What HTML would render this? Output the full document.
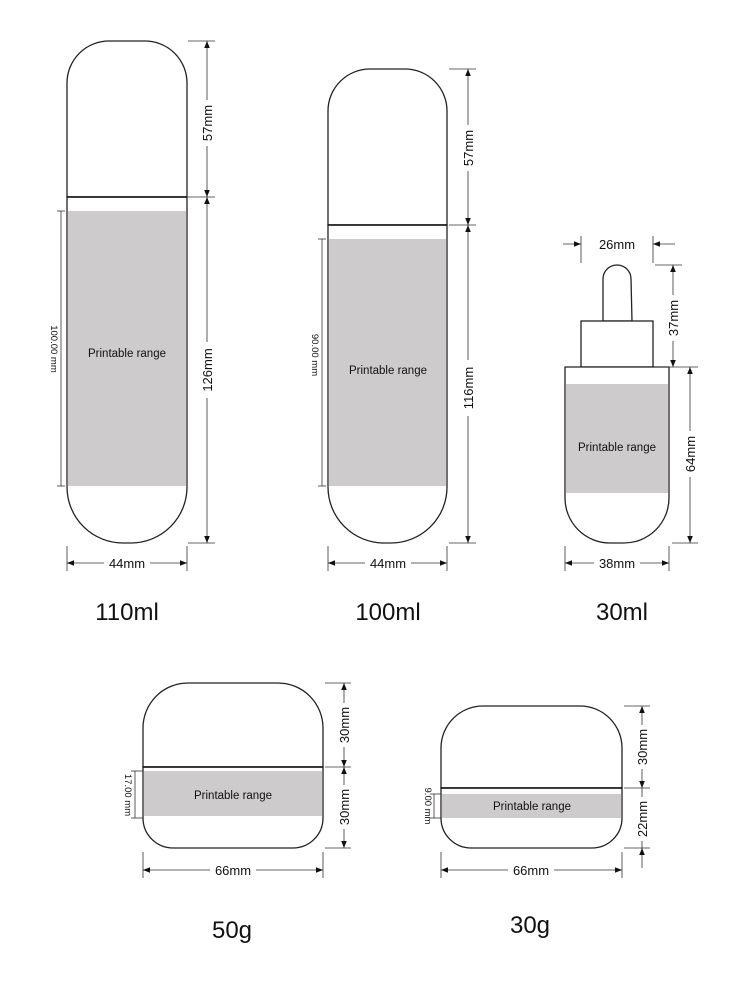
<!DOCTYPE html>
<html><head><meta charset="utf-8"><style>
html,body{margin:0;padding:0;background:#fff;}
svg{display:block;font-family:"Liberation Sans",Arial,sans-serif;}
.b{fill:#fff;stroke:#222;stroke-width:1.3}
.g{fill:#cdcbcc}
.d{stroke:#333;stroke-width:0.8;fill:none}
.t{font-size:13px;fill:#111}
.s{font-size:9.5px;fill:#111}
.p{font-size:11.5px;fill:#111}
.L{font-size:24px;fill:#111}
</style></head><body>
<svg width="750" height="1004" viewBox="0 0 750 1004" xmlns="http://www.w3.org/2000/svg">
<defs>
<marker id="a" viewBox="0 0 10 10" refX="10" refY="5" markerWidth="9" markerHeight="7" orient="auto-start-reverse" markerUnits="userSpaceOnUse"><path d="M0,1 L10,5 L0,9 z" fill="#111"/></marker>
</defs>

<!-- 110ml -->
<path class="b" d="M67,197 L67,83 A42,42 0 0 1 109,41 L145,41 A42,42 0 0 1 187,83 L187,197 Z"/>
<path class="b" d="M67,197 L187,197 L187,487 A56,56 0 0 1 131,543 L123,543 A56,56 0 0 1 67,487 Z"/>
<rect class="g" x="67.7" y="211" width="118.6" height="275"/>
<line x1="67" y1="197" x2="187" y2="197" stroke="#111" stroke-width="1.6"/>
<text class="p" x="127" y="357" text-anchor="middle">Printable range</text>
<line class="d" x1="61" y1="211" x2="61" y2="486"/><line class="d" x1="57" y1="211" x2="65" y2="211"/><line class="d" x1="57" y1="486" x2="65" y2="486"/>
<text class="s" transform="translate(51,349) rotate(90)" text-anchor="middle">100.00 mm</text>
<line class="d" x1="188" y1="41" x2="215" y2="41"/><line class="d" x1="188" y1="197" x2="215" y2="197"/><line class="d" x1="188" y1="543" x2="215" y2="543"/>
<line class="d" x1="207" y1="41" x2="207" y2="197" marker-start="url(#a)" marker-end="url(#a)"/>
<line class="d" x1="207" y1="197" x2="207" y2="543" marker-start="url(#a)" marker-end="url(#a)"/>
<rect x="200" y="100" width="14" height="46" fill="#fff"/><text class="t" transform="translate(212,123) rotate(-90)" text-anchor="middle">57mm</text>
<rect x="200" y="342" width="14" height="56" fill="#fff"/><text class="t" transform="translate(212,370) rotate(-90)" text-anchor="middle">126mm</text>
<line class="d" x1="67" y1="546" x2="67" y2="571"/><line class="d" x1="187" y1="546" x2="187" y2="571"/>
<line class="d" x1="67" y1="563" x2="187" y2="563" marker-start="url(#a)" marker-end="url(#a)"/>
<rect x="104" y="555" width="46" height="14" fill="#fff"/><text class="t" x="127" y="568" text-anchor="middle">44mm</text>
<text class="L" x="127" y="620" text-anchor="middle">110ml</text>

<!-- 100ml -->
<path class="b" d="M328,225 L328,111 A42,42 0 0 1 370,69 L405,69 A42,42 0 0 1 447,111 L447,225 Z"/>
<path class="b" d="M328,225 L447,225 L447,487 A56,56 0 0 1 391,543 L384,543 A56,56 0 0 1 328,487 Z"/>
<rect class="g" x="328.7" y="239" width="117.6" height="247"/>
<line x1="328" y1="225" x2="447" y2="225" stroke="#111" stroke-width="1.6"/>
<text class="p" x="388" y="374" text-anchor="middle">Printable range</text>
<line class="d" x1="322" y1="239" x2="322" y2="486"/><line class="d" x1="318" y1="239" x2="326" y2="239"/><line class="d" x1="318" y1="486" x2="326" y2="486"/>
<text class="s" transform="translate(312,355) rotate(90)" text-anchor="middle">90.00 mm</text>
<line class="d" x1="449" y1="69" x2="476" y2="69"/><line class="d" x1="449" y1="225" x2="476" y2="225"/><line class="d" x1="449" y1="543" x2="476" y2="543"/>
<line class="d" x1="468" y1="69" x2="468" y2="225" marker-start="url(#a)" marker-end="url(#a)"/>
<line class="d" x1="468" y1="225" x2="468" y2="543" marker-start="url(#a)" marker-end="url(#a)"/>
<rect x="461" y="125" width="14" height="46" fill="#fff"/><text class="t" transform="translate(473,148) rotate(-90)" text-anchor="middle">57mm</text>
<rect x="461" y="360" width="14" height="56" fill="#fff"/><text class="t" transform="translate(473,388) rotate(-90)" text-anchor="middle">116mm</text>
<line class="d" x1="328" y1="546" x2="328" y2="571"/><line class="d" x1="447" y1="546" x2="447" y2="571"/>
<line class="d" x1="328" y1="563" x2="447" y2="563" marker-start="url(#a)" marker-end="url(#a)"/>
<rect x="365" y="555" width="46" height="14" fill="#fff"/><text class="t" x="388" y="568" text-anchor="middle">44mm</text>
<text class="L" x="388" y="620" text-anchor="middle">100ml</text>

<!-- 30ml -->
<path class="b" d="M603,321 L603,279 A14,14 0 0 1 631,279 L632,321 Z"/>
<rect class="b" x="581" y="321" width="72" height="46"/>
<path class="b" d="M565,367 L669,367 L669,498 A45,45 0 0 1 624,543 L610,543 A45,45 0 0 1 565,498 Z"/>
<rect class="g" x="565.7" y="384" width="102.6" height="109"/>
<text class="p" x="617" y="451" text-anchor="middle">Printable range</text>
<line class="d" x1="581" y1="236" x2="581" y2="263"/><line class="d" x1="653" y1="236" x2="653" y2="263"/>
<line class="d" x1="563" y1="244" x2="581" y2="244" marker-end="url(#a)"/>
<line class="d" x1="675" y1="244" x2="653" y2="244" marker-end="url(#a)"/>
<text class="t" x="617" y="249" text-anchor="middle">26mm</text>
<line class="d" x1="655" y1="265" x2="682" y2="265"/><line class="d" x1="655" y1="367" x2="698" y2="367"/><line class="d" x1="672" y1="543" x2="698" y2="543"/>
<line class="d" x1="673" y1="265" x2="673" y2="367" marker-start="url(#a)" marker-end="url(#a)"/>
<line class="d" x1="690" y1="367" x2="690" y2="543" marker-start="url(#a)" marker-end="url(#a)"/>
<rect x="666" y="295" width="14" height="46" fill="#fff"/><text class="t" transform="translate(678,318) rotate(-90)" text-anchor="middle">37mm</text>
<rect x="683" y="431" width="14" height="46" fill="#fff"/><text class="t" transform="translate(695,454) rotate(-90)" text-anchor="middle">64mm</text>
<line class="d" x1="565" y1="546" x2="565" y2="571"/><line class="d" x1="669" y1="546" x2="669" y2="571"/>
<line class="d" x1="565" y1="563" x2="669" y2="563" marker-start="url(#a)" marker-end="url(#a)"/>
<rect x="594" y="555" width="46" height="14" fill="#fff"/><text class="t" x="617" y="568" text-anchor="middle">38mm</text>
<text class="L" x="622" y="620" text-anchor="middle">30ml</text>

<!-- 50g -->
<path class="b" d="M143,767 L143,728 A45,45 0 0 1 188,683 L278,683 A45,45 0 0 1 323,728 L323,767 Z"/>
<path class="b" d="M143,767 L323,767 L323,818 A30,30 0 0 1 293,848 L173,848 A30,30 0 0 1 143,818 Z"/>
<rect class="g" x="143.7" y="771" width="178.6" height="45"/>
<line x1="143" y1="767" x2="323" y2="767" stroke="#111" stroke-width="1.6"/>
<text class="p" x="233" y="799" text-anchor="middle">Printable range</text>
<line class="d" x1="135" y1="771" x2="135" y2="818"/><line class="d" x1="131" y1="771" x2="143" y2="771"/><line class="d" x1="131" y1="818" x2="143" y2="818"/>
<text class="s" transform="translate(125,795) rotate(90)" text-anchor="middle">17.00 mm</text>
<line class="d" x1="325" y1="683" x2="351" y2="683"/><line class="d" x1="325" y1="767" x2="351" y2="767"/><line class="d" x1="325" y1="848" x2="351" y2="848"/>
<line class="d" x1="344" y1="683" x2="344" y2="767" marker-start="url(#a)" marker-end="url(#a)"/>
<line class="d" x1="344" y1="767" x2="344" y2="848" marker-start="url(#a)" marker-end="url(#a)"/>
<rect x="337" y="703" width="14" height="44" fill="#fff"/><text class="t" transform="translate(349,725) rotate(-90)" text-anchor="middle">30mm</text>
<rect x="337" y="785" width="14" height="44" fill="#fff"/><text class="t" transform="translate(349,807) rotate(-90)" text-anchor="middle">30mm</text>
<line class="d" x1="143" y1="852" x2="143" y2="878"/><line class="d" x1="323" y1="852" x2="323" y2="878"/>
<line class="d" x1="143" y1="870" x2="323" y2="870" marker-start="url(#a)" marker-end="url(#a)"/>
<rect x="210" y="862" width="46" height="14" fill="#fff"/><text class="t" x="233" y="875" text-anchor="middle">66mm</text>
<text class="L" x="232" y="938" text-anchor="middle">50g</text>

<!-- 30g -->
<path class="b" d="M441,788 L441,748 A42,42 0 0 1 483,706 L580,706 A42,42 0 0 1 622,748 L622,788 Z"/>
<path class="b" d="M441,788 L622,788 L622,818 A30,30 0 0 1 592,848 L471,848 A30,30 0 0 1 441,818 Z"/>
<rect class="g" x="441.7" y="794" width="179.6" height="24"/>
<line x1="441" y1="788" x2="622" y2="788" stroke="#111" stroke-width="1.6"/>
<text class="p" x="532" y="810" text-anchor="middle">Printable range</text>
<line class="d" x1="434" y1="794" x2="434" y2="818"/><line class="d" x1="430" y1="794" x2="441" y2="794"/><line class="d" x1="430" y1="818" x2="441" y2="818"/>
<text class="s" transform="translate(425,806) rotate(90)" text-anchor="middle">9.00 mm</text>
<line class="d" x1="624" y1="706" x2="650" y2="706"/><line class="d" x1="624" y1="788" x2="650" y2="788"/><line class="d" x1="624" y1="848" x2="650" y2="848"/>
<line class="d" x1="642" y1="706" x2="642" y2="788" marker-start="url(#a)" marker-end="url(#a)"/>
<line class="d" x1="642" y1="788" x2="642" y2="848"/>
<line class="d" x1="642" y1="868" x2="642" y2="848" marker-end="url(#a)"/>
<rect x="635" y="725" width="14" height="44" fill="#fff"/><text class="t" transform="translate(647,747) rotate(-90)" text-anchor="middle">30mm</text>
<rect x="635" y="797" width="14" height="44" fill="#fff"/><text class="t" transform="translate(647,819) rotate(-90)" text-anchor="middle">22mm</text>
<line class="d" x1="441" y1="852" x2="441" y2="878"/><line class="d" x1="622" y1="852" x2="622" y2="878"/>
<line class="d" x1="441" y1="870" x2="622" y2="870" marker-start="url(#a)" marker-end="url(#a)"/>
<rect x="508" y="862" width="46" height="14" fill="#fff"/><text class="t" x="531" y="875" text-anchor="middle">66mm</text>
<text class="L" x="530" y="933" text-anchor="middle">30g</text>
</svg>
</body></html>
